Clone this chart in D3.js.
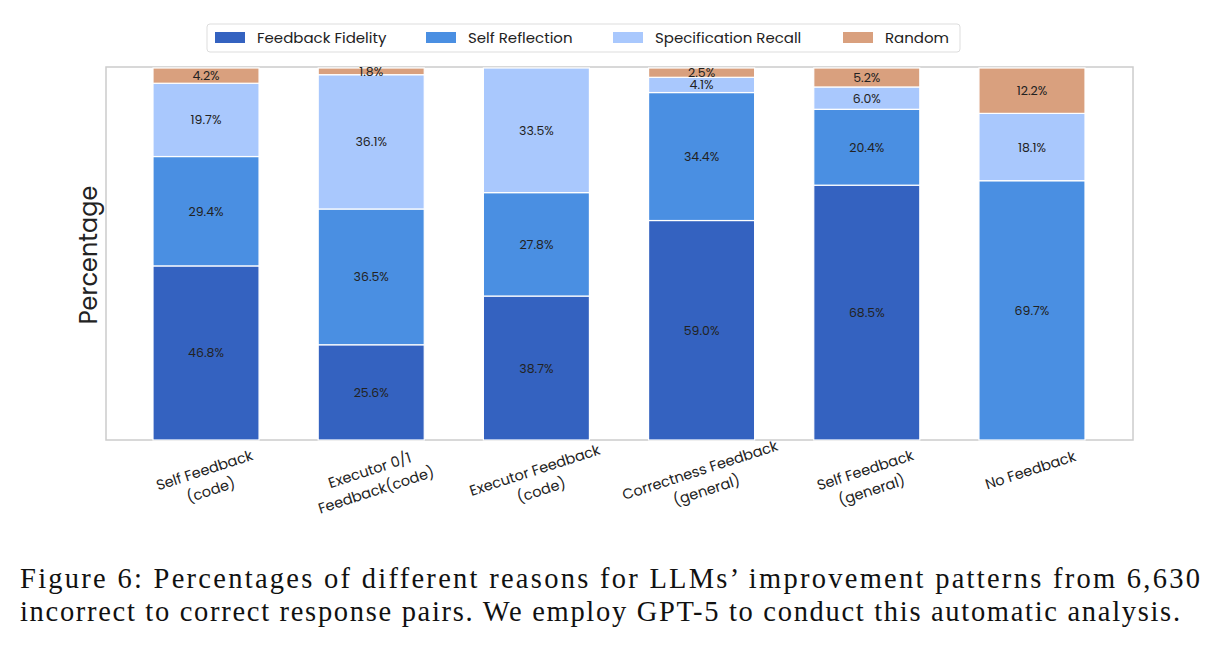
<!DOCTYPE html><html><head><meta charset="utf-8">
<script src="https://cdn.jsdelivr.net/npm/d3@7"></script>
<style>body{margin:0;background:#fff}</style></head><body>
<svg id="c" width="1218" height="646"></svg>
<script>
const categories=["Self Feedback\n(code)","Executor 0/1\nFeedback(code)","Executor Feedback\n(code)","Correctness Feedback\n(general)","Self Feedback\n(general)","No Feedback"];
const seriesNames=["Feedback Fidelity","Self Reflection","Specification Recall","Random"];
const feedbackFidelity=[46.8,25.6,38.7,59.0,68.5,0];
const selfReflection=[29.4,36.5,27.8,34.4,20.4,69.7];
const specRecall=[19.7,36.1,33.5,4.1,6.0,18.1];
const random=[4.2,1.8,0,2.5,5.2,12.2];
const colors=["#3462c0","#4a8fe2","#a9c8fd","#d9a07e"];
const series=[feedbackFidelity,selfReflection,specRecall,random];
const svg=d3.select("#c");
const L=106,R=1133,T=68,B=440;
const font="Poppins, 'Open Sans', sans-serif";
const x=d3.scaleBand().domain(categories).range([153,1085]).paddingInner(0.358).paddingOuter(0);
const y=d3.scaleLinear().domain([0,100]).range([B,T]);
svg.append("rect").attr("x",L).attr("y",T-1).attr("width",R-L).attr("height",B-T+1).attr("fill","none").attr("stroke","#cccccc").attr("stroke-width",1.5);
const rows=categories.map((c,i)=>{let acc=0;return series.map((s,k)=>{const v=s[i];const r={c,k,v,y0:acc,y1:Math.min(100,acc+v)};acc+=v;return r;});});
rows.flat().filter(d=>d.v>0).forEach(d=>{
 svg.append("rect").attr("x",x(d.c)).attr("width",x.bandwidth()).attr("y",y(d.y1)).attr("height",y(d.y0)-y(d.y1)).attr("fill",colors[d.k]).attr("stroke","#fff").attr("stroke-width",1.2);
 svg.append("text").attr("x",x(d.c)+x.bandwidth()/2).attr("y",(y(d.y0)+y(d.y1))/2+4.5).attr("text-anchor","middle").attr("font-family",font).attr("font-size",12.5).attr("fill","#222").text(d.v.toFixed(1)+"%");
});
categories.forEach(c=>{
 const cx=x(c)+x.bandwidth()/2;
 const g=svg.append("g").attr("transform",`translate(${cx},475) rotate(-18)`);
 c.split("\n").forEach((l,j)=>g.append("text").attr("x",0).attr("y",j*21).attr("text-anchor","middle").attr("font-family",font).attr("font-size",14.5).attr("fill","#222").text(l));
});
svg.append("text").attr("transform","translate(97,255) rotate(-90)").attr("text-anchor","middle").attr("font-family",font).attr("font-size",24).attr("fill","#222").text("Percentage");
const lg=svg.append("g");
lg.append("rect").attr("x",207).attr("y",24).attr("width",753).attr("height",28).attr("fill","#fff").attr("stroke","#ddd").attr("rx",3);
const lx=[215,426,613,843];
seriesNames.forEach((n,i)=>{lg.append("rect").attr("x",lx[i]).attr("y",32).attr("width",30).attr("height",11).attr("fill",colors[i]);
 lg.append("text").attr("x",lx[i]+42).attr("y",43).attr("font-family",font).attr("font-size",15).attr("fill","#222").text(n);});
const cap=svg.append("g").attr("font-family","'Liberation Serif','DejaVu Serif',serif").attr("font-size",28.5).attr("fill","#111");
cap.append("text").attr("x",20).attr("y",588).attr("textLength",1180).attr("lengthAdjust","spacing").text("Figure 6: Percentages of different reasons for LLMs’ improvement patterns from 6,630");
cap.append("text").attr("x",20).attr("y",621).attr("textLength",1160).attr("lengthAdjust","spacing").text("incorrect to correct response pairs. We employ GPT-5 to conduct this automatic analysis.");
</script></body></html>
